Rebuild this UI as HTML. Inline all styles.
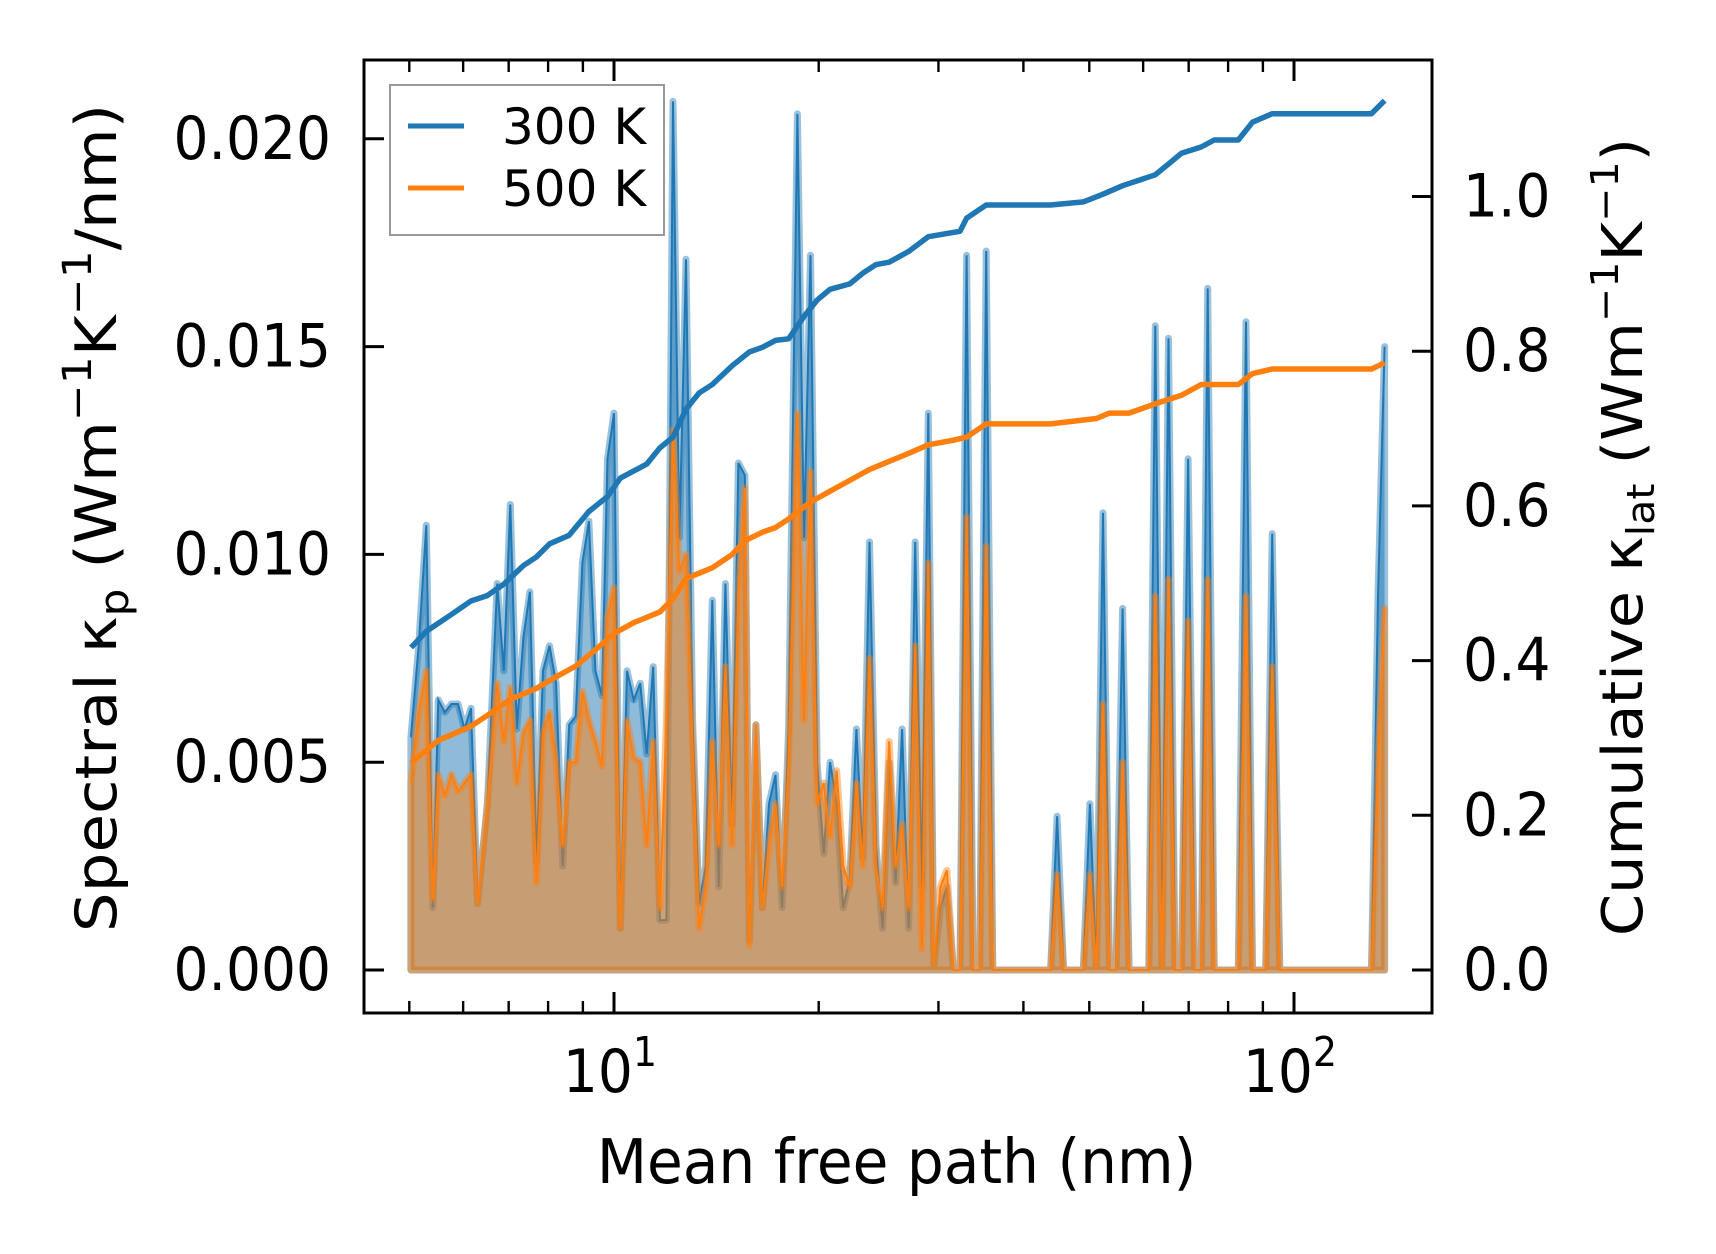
<!DOCTYPE html>
<html><head><meta charset="utf-8"><style>
html,body{margin:0;padding:0;background:#fff;}
svg{display:block;font-family:"DejaVu Sans","Liberation Sans",sans-serif;}
</style></head><body>
<svg id="chart" width="1716" height="1254" viewBox="0 0 1716 1254" xmlns="http://www.w3.org/2000/svg">
<rect x="0" y="0" width="1716" height="1254" fill="#fff"/>
<g id="plot"></g>
<g id="axes"></g>
</svg>
<script>
// ---- data ----
const mfp = [5.028,5.161,5.296,5.415,5.516,5.640,5.766,5.896,6.028,6.162,6.300,6.513,6.734,6.885,7.039,7.196,7.358,7.522,7.691,7.863,8.039,8.219,8.404,8.592,8.785,8.985,9.186,9.391,9.601,9.781,10.0,10.22,10.45,10.69,10.93,11.17,11.42,11.68,11.94,12.21,12.48,12.76,13.05,13.34,13.64,13.95,14.26,14.58,14.91,15.24,15.58,15.81,16.17,16.53,16.90,17.28,17.67,18.06,18.61,19.03,19.45,19.89,20.34,20.79,21.26,21.73,22.22,22.72,23.23,23.75,24.28,24.83,25.38,25.95,26.53,27.13,27.73,28.36,28.99,29.53,30.20,30.87,31.56,32.27,33.00,33.74,34.49,35.26,36.06,43.86,44.84,45.84,49.00,50.10,51.22,52.37,53.54,54.74,55.97,57.22,61.16,62.53,63.94,65.37,66.83,68.33,69.86,71.42,73.03,74.66,76.33,82.82,85.00,86.90,90.85,92.88,95.31,130.0,132.9,135.9];
const spec300 = [0.0056,0.0078,0.0107,0.0015,0.0065,0.0062,0.0064,0.0064,0.0058,0.0063,0.0016,0.0040,0.0093,0.0072,0.0112,0.0058,0.0080,0.0091,0.0026,0.0072,0.0078,0.0069,0.0025,0.0059,0.0061,0.0098,0.0108,0.0072,0.0066,0.0123,0.0134,0.0010,0.0072,0.0065,0.0069,0.0052,0.0073,0.0012,0.0012,0.0209,0.0104,0.0171,0.0060,0.0016,0.0025,0.0089,0.0020,0.0093,0.0035,0.0122,0.0119,0.0007,0.0059,0.0015,0.0040,0.0047,0.0015,0.0058,0.0206,0.0104,0.0172,0.0050,0.0028,0.0050,0.0040,0.0015,0.0022,0.0058,0.0027,0.0103,0.0030,0.0010,0.0050,0.0021,0.0058,0.0010,0.0103,0.0020,0.0134,0.0001,0.0015,0.0020,0,0,0.0172,0,0,0.0173,0,0,0.0037,0,0,0.0040,0,0.0110,0,0,0.0087,0,0,0.0155,0,0.0152,0,0,0.0123,0,0,0.0164,0,0,0.0156,0,0,0.0105,0,0,0.0090,0.0150];
const spec500 = [0.0045,0.0062,0.0072,0.0017,0.0047,0.0042,0.0047,0.0043,0.0045,0.0047,0.0016,0.0040,0.0069,0.0055,0.0068,0.0045,0.0057,0.0060,0.0021,0.0057,0.0062,0.0050,0.0030,0.0050,0.0050,0.0067,0.0060,0.0055,0.0049,0.0085,0.0092,0.0010,0.0060,0.0051,0.0050,0.0030,0.0055,0.0015,0.0060,0.0130,0.0096,0.0100,0.0054,0.0010,0.0020,0.0055,0.0030,0.0073,0.0030,0.0090,0.0116,0.0006,0.0059,0.0015,0.0030,0.0040,0.0020,0.0050,0.0134,0.0060,0.0120,0.0040,0.0045,0.0032,0.0048,0.0025,0.0020,0.0045,0.0025,0.0075,0.0025,0.0015,0.0055,0.0025,0.0035,0.0015,0.0078,0.0005,0.0098,0.0001,0.0020,0.0024,0,0,0.0109,0,0,0.0102,0,0,0.0023,0,0,0.0023,0,0.0064,0,0,0.0050,0,0,0.0090,0,0.0094,0,0,0.0084,0,0,0.0094,0,0,0.0090,0,0,0.0073,0,0,0.0050,0.0087];
const cumMfp300 = [5.03,5.30,5.75,6.16,6.51,6.89,7.36,7.69,8.04,8.59,9.19,9.78,10.22,11.17,11.68,12.21,12.76,13.34,13.95,14.91,15.81,16.53,17.28,18.06,19.03,19.89,20.79,22.22,23.23,24.28,25.38,27.13,28.99,32.27,33.00,35.26,43.86,49.00,52.37,55.97,62.53,65.37,68.33,73.03,76.33,82.82,86.90,92.88,130.0,135.9];
const cum300 = [0.417,0.438,0.459,0.477,0.484,0.499,0.523,0.534,0.551,0.562,0.593,0.612,0.636,0.654,0.675,0.689,0.725,0.746,0.757,0.781,0.799,0.805,0.814,0.816,0.845,0.866,0.880,0.887,0.901,0.912,0.915,0.929,0.948,0.955,0.972,0.989,0.989,0.993,1.003,1.014,1.028,1.042,1.056,1.064,1.073,1.073,1.096,1.107,1.107,1.124];
const cumMfp500 = [5.03,5.52,6.16,6.51,7.04,7.69,8.22,8.79,9.39,10.0,10.69,11.68,12.21,12.76,13.95,14.91,15.58,16.53,17.28,18.06,19.45,20.79,22.22,23.75,24.83,27.13,28.99,31.56,33.00,35.26,43.86,51.22,53.54,57.22,62.53,68.33,73.03,82.82,86.90,92.88,130.0,135.9];
const cum500 = [0.268,0.297,0.315,0.329,0.350,0.364,0.379,0.393,0.414,0.435,0.449,0.463,0.480,0.506,0.520,0.537,0.555,0.566,0.572,0.583,0.605,0.619,0.633,0.647,0.654,0.668,0.679,0.685,0.689,0.706,0.706,0.713,0.720,0.720,0.732,0.743,0.757,0.757,0.771,0.777,0.777,0.785];
const leftTicks = [0,0.005,0.010,0.015,0.020];
const leftTickLabels = ["0.000","0.005","0.010","0.015","0.020"];
const rightTicks = [0,0.2,0.4,0.6,0.8,1.0];
const rightTickLabels = ["0.0","0.2","0.4","0.6","0.8","1.0"];
const xMajor = [10,100];
const xMajorExp = ["1","2"];
const xMinor = [5,6,7,8,9,20,30,40,50,60,70,80,90];

// ---- axis functions ----
const L=364,R=1432,T=60,B=1013;
function sx(m){return 614+Math.log10(m/10)*680;}
function syL(v){return 970-v/0.005*207.8;}
function syR(v){return 970-v/0.2*154.7;}
const NS="http://www.w3.org/2000/svg";
const plot=document.getElementById('plot'), axes=document.getElementById('axes');
function mk(tag,attrs,parent){const e=document.createElementNS(NS,tag);for(const k in attrs)e.setAttribute(k,attrs[k]);parent.appendChild(e);return e;}

function fillPath(vals){
  let d='M'+sx(mfp[0]).toFixed(1)+','+syL(0).toFixed(1);
  for(let i=0;i<mfp.length;i++)d+=' L'+sx(mfp[i]).toFixed(1)+','+syL(vals[i]).toFixed(1);
  d+=' L'+sx(mfp[mfp.length-1]).toFixed(1)+','+syL(0).toFixed(1)+' Z';return d;
}
function linePath(vals){
  let d='';for(let i=0;i<mfp.length;i++)d+=(i?' L':'M')+sx(mfp[i]).toFixed(1)+','+syL(vals[i]).toFixed(1);return d;
}
function cumPath(xs,vals){
  let d='';for(let i=0;i<xs.length;i++)d+=(i?' L':'M')+sx(xs[i]).toFixed(1)+','+syR(vals[i]).toFixed(1);return d;
}
let e;
e=mk('path',{d:fillPath(spec300),fill:'rgba(31,119,180,0.5)',stroke:'rgba(31,119,180,0.45)','stroke-width':7,'stroke-linejoin':'round'},plot);


e=mk('path',{d:linePath(spec300),fill:'none',stroke:'#1f77b4','stroke-width':2},plot);


e=mk('path',{d:fillPath(spec500),fill:'rgba(255,127,14,0.5)',stroke:'rgba(255,127,14,0.45)','stroke-width':7,'stroke-linejoin':'round'},plot);


e=mk('path',{d:linePath(spec500),fill:'none',stroke:'#ff7f0e','stroke-width':2},plot);


e=mk('path',{d:cumPath(cumMfp300,cum300),fill:'none',stroke:'#1f77b4','stroke-width':5.5,'stroke-linejoin':'round'},plot);


e=mk('path',{d:cumPath(cumMfp500,cum500),fill:'none',stroke:'#ff7f0e','stroke-width':5.5,'stroke-linejoin':'round'},plot);



// frame
e=mk('rect',{x:L,y:T,width:R-L,height:B-T,fill:'none',stroke:'#000','stroke-width':3},axes);


const FS=55;
function txt(s,x,y,anchor,parent){const t=mk('text',{x:x,y:y,'text-anchor':anchor,'font-size':FS,fill:'#000',transform:'translate(0,'+y+') scale(1,1.08) translate(0,'+(-y)+')'},parent);t.textContent=s;return t;}
leftTicks.forEach((v,i)=>{
  const y=syL(v);
  const t=mk('line',{x1:L,x2:L+20,y1:y,y2:y,stroke:'#000','stroke-width':3},axes);
  
  
  const lb=txt(leftTickLabels[i],331,y+20,'end',axes);
  
  
});
rightTicks.forEach((v,i)=>{
  const y=syR(v);
  const t=mk('line',{x1:R-20,x2:R,y1:y,y2:y,stroke:'#000','stroke-width':3},axes);
  
  
  const lb=txt(rightTickLabels[i],1463,y+20,'start',axes);
  
  
});
xMajor.forEach((m,i)=>{
  const x=sx(m);
  [[B,B-21],[T,T+21]].forEach(p=>{
    const t=mk('line',{x1:x,x2:x,y1:p[0],y2:p[1],stroke:'#000','stroke-width':3},axes);
    
    
  });
  const lb=mk('text',{x:x-4,y:1092,'text-anchor':'middle','font-size':FS,fill:'#000',transform:'translate(0,1092) scale(1,1.08) translate(0,-1092)'},axes);
  
  
  lb.innerHTML='10<tspan font-size="38" dy="-24">'+xMajorExp[i]+'</tspan>';
});
xMinor.forEach(m=>{
  const x=sx(m);
  [[B,B-12],[T,T+12]].forEach(p=>{
    const t=mk('line',{x1:x,x2:x,y1:p[0],y2:p[1],stroke:'#000','stroke-width':2.4},axes);
    
    
  });
});
</script>
<script>
const svg=document.getElementById('chart');
const g=document.createElementNS("http://www.w3.org/2000/svg",'g');
svg.appendChild(g);
g.innerHTML=
'<text x="897" y="1183" text-anchor="middle" font-size="57" transform="translate(0,1183) scale(1.02,1.08) translate(0,-1183) translate(-18,0)">Mean free path (nm)</text>'+
'<text x="0" y="0" text-anchor="middle" font-size="57" transform="translate(116,518) rotate(-90) scale(1.1,1)">Spectral κ<tspan font-size="40" dy="12">p</tspan><tspan dy="-12"> (Wm</tspan><tspan font-size="40" dy="-25">−1</tspan><tspan dy="25">K</tspan><tspan font-size="40" dy="-25">−1</tspan><tspan dy="25">/nm)</tspan></text>'+
'<text x="0" y="0" text-anchor="middle" font-size="56" transform="translate(1642,537) rotate(-90) scale(1.08,1)">Cumulative κ<tspan font-size="38" dy="12">lat</tspan><tspan dy="-12"> (Wm</tspan><tspan font-size="38" dy="-24">−1</tspan><tspan dy="24">K</tspan><tspan font-size="38" dy="-24">−1</tspan><tspan dy="24">)</tspan></text>'+
'<g>'+
'<rect x="390" y="85" width="274" height="150" fill="#fff" fill-opacity="0.8" stroke="#999" stroke-width="2"/>'+
'<line x1="408" x2="464" y1="126" y2="126" stroke="#1f77b4" stroke-width="5"/>'+
'<text x="502" y="144" font-size="50">300 K</text>'+
'<line x1="408" x2="464" y1="188" y2="188" stroke="#ff7f0e" stroke-width="5"/>'+
'<text x="502" y="206" font-size="50">500 K</text>'+
'</g>';
</script>
</body></html>
